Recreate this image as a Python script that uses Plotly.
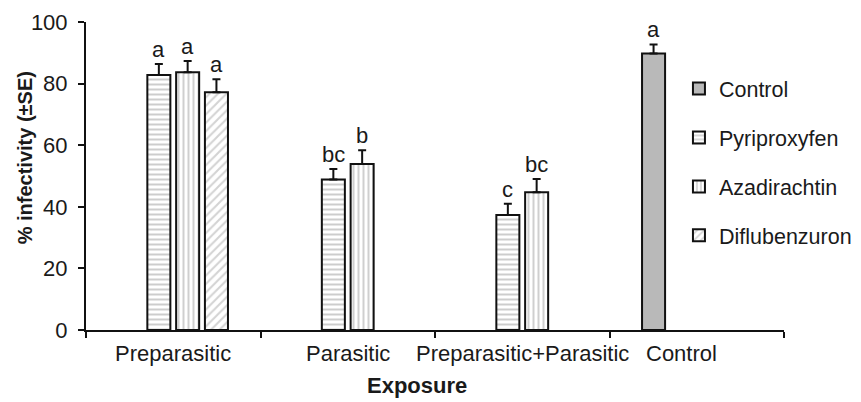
import plotly.graph_objects as go

categories = ["Preparasitic", "Parasitic", "Preparasitic+Parasitic", "Control"]
series_names = ["Control", "Pyriproxyfen", "Azadirachtin", "Diflubenzuron"]

control_vals = [None, None, None, 89.8]
control_se = [0, 0, 0, 2.9]
pyri_vals = [82.8, 48.9, 37.3, None]
pyri_se = [3.6, 3.4, 3.7, 0]
azad_vals = [83.7, 53.9, 44.7, None]
azad_se = [3.6, 4.5, 4.3, 0]
diflu_vals = [77.2, None, None, None]
diflu_se = [4.2, 0, 0, 0]

control_letters = [None, None, None, "a"]
pyri_letters = ["a", "bc", "c", None]
azad_letters = ["a", "b", "bc", None]
diflu_letters = ["a", None, None, None]

FONT = "Liberation Sans, Arial, sans-serif"
TXT = "#1a1a1a"
FS = 22

styles = [
    dict(color="#b9b9b9"),
    dict(color="white", pattern=dict(shape="-", fgcolor="#9c9c9c", bgcolor="white", size=5, solidity=0.4)),
    dict(color="white", pattern=dict(shape="|", fgcolor="#a0a0a0", bgcolor="white", size=5, solidity=0.4)),
    dict(color="white", pattern=dict(shape="/", fgcolor="#a8a8a8", bgcolor="white", size=6, solidity=0.35)),
]
vals = [control_vals, pyri_vals, azad_vals, diflu_vals]
ses = [control_se, pyri_se, azad_se, diflu_se]
letters = [control_letters, pyri_letters, azad_letters, diflu_letters]

fig = go.Figure()
for i, name in enumerate(series_names):
    m = dict(styles[i])
    m["line"] = dict(color="#111111", width=2)
    fig.add_trace(go.Bar(
        name=name, x=categories, y=vals[i], marker=m, legendgroup=name,
        error_y=dict(type="data", symmetric=False, array=ses[i],
                     arrayminus=[0] * len(categories), color="#111111",
                     thickness=2, width=4),
    ))

slot_offsets = [-1.5, -0.5, 0.5, 1.5]
slot_w = 29 / 175.5
for i in range(4):
    for j, cat in enumerate(categories):
        if letters[i][j] and vals[i][j] is not None:
            fig.add_annotation(
                x=j + slot_offsets[i] * slot_w, y=vals[i][j] + ses[i][j],
                xref="x", yref="y", text=letters[i][j], showarrow=False,
                yanchor="bottom", yshift=0,
                font=dict(family=FONT, size=FS, color=TXT))

label_shift = [0, 0, 0, -15]
for j, cat in enumerate(categories):
    fig.add_annotation(x=j, y=0, xref="x", yref="y", text=cat, showarrow=False,
                       yanchor="top", yshift=-9, xshift=label_shift[j],
                       font=dict(family=FONT, size=FS, color=TXT))

fig.add_annotation(x=(419 - 86) / 702, y=-0.1786, xref="paper", yref="paper",
                   text="<b>Exposure</b>", showarrow=False, yanchor="middle",
                   font=dict(family=FONT, size=FS, color=TXT))
fig.add_annotation(x=-(86 - 25) / 702, y=(330 - 158) / 308, xref="paper", yref="paper",
                   text="<b>% infectivity (±SE)</b>", showarrow=False, textangle=-90,
                   xanchor="center", yanchor="middle",
                   font=dict(family=FONT, size=20, color=TXT))

fig.update_layout(
    width=861, height=402,
    margin=dict(l=78, r=81, t=14, b=80),
    paper_bgcolor="white", plot_bgcolor="white",
    barmode="group", bargap=0.34, bargroupgap=0.2,
    font=dict(family=FONT, size=FS, color=TXT),
    showlegend=True,
    legend=dict(x=0.8495, y=0.8506, xanchor="left", yanchor="top",
                bgcolor="white", font=dict(family=FONT, size=21.5, color=TXT),
                traceorder="grouped", tracegroupgap=18, itemwidth=30),
)
fig.update_xaxes(type="category", range=[-0.5, 3.5], showline=True, linecolor="#111111",
                 linewidth=2, ticks="outside", ticklen=6, tickwidth=2, tickcolor="#111111",
                 tickson="boundaries", showticklabels=False, showgrid=False, automargin=False)
fig.update_yaxes(range=[0, 100], dtick=20, showline=True, linecolor="#111111", linewidth=2,
                 ticks="outside", ticklen=6, tickwidth=2, tickcolor="#111111",
                 showgrid=False, zeroline=False, ticklabelstandoff=6, automargin=False,
                 tickfont=dict(family=FONT, size=FS, color=TXT))

fig.write_html("out.html")
